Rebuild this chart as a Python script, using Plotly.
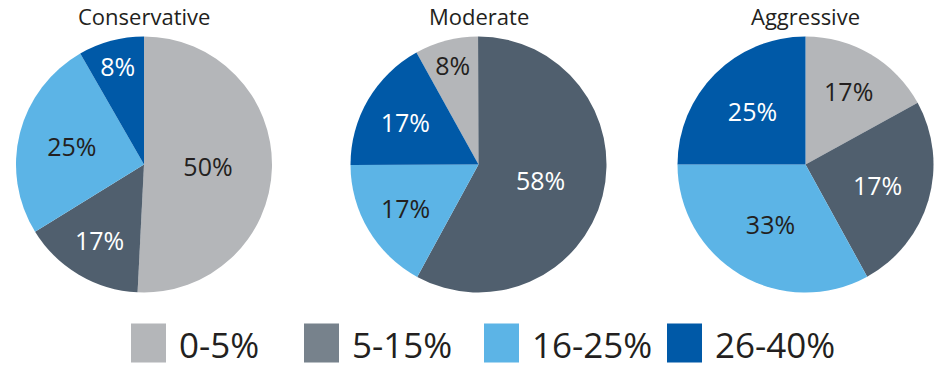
import plotly.graph_objects as go

# ---- data ----
categories = ["0-5%", "5-15%", "16-25%", "26-40%"]
portfolios = ["Conservative", "Moderate", "Aggressive"]
# slice sizes as drawn (percent of the pie)
conservative_sizes = [50.8, 15.4, 25.5, 8.3]
moderate_sizes = [8, 58, 17, 17]
aggressive_sizes = [17, 25, 33, 25]
# labels printed on the slices
conservative_labels = ["50%", "17%", "25%", "8%"]
moderate_labels = ["8%", "58%", "17%", "17%"]
aggressive_labels = ["17%", "17%", "33%", "25%"]

# ---- styling ----
slice_colors = ["#b4b6b9", "#505f6e", "#5cb4e6", "#0059a7"]
legend_colors = ["#b4b6b9", "#77828c", "#5cb4e6", "#0059a7"]
text_colors = ["#231f20", "#ffffff", "#231f20", "#ffffff"]
FONT = "Open Sans, Noto Sans, sans-serif"
W, H = 942, 372

sizes = [conservative_sizes, moderate_sizes, aggressive_sizes]
labels = [conservative_labels, moderate_labels, aggressive_labels]
rotations = [0, -29, 0]
centers_px = [144, 478.5, 805.5]
radius_px = 128
cy_px = 164.5

fig = go.Figure()
for name, vals, txt, rot, cx in zip(portfolios, sizes, labels, rotations, centers_px):
    fig.add_trace(go.Pie(
        name=name,
        labels=categories,
        values=vals,
        text=txt,
        textinfo="text",
        textposition="inside",
        insidetextorientation="horizontal",
        insidetextfont=dict(family=FONT, size=25, color=text_colors),
        marker=dict(colors=slice_colors, line=dict(width=0)),
        sort=False,
        direction="clockwise",
        rotation=rot,
        showlegend=False,
        hoverinfo="label+text",
        domain=dict(
            x=[(cx - radius_px) / W, (cx + radius_px) / W],
            y=[(H - cy_px - radius_px) / H, (H - cy_px + radius_px) / H],
        ),
    ))

annotations = []
for name, cx in zip(portfolios, centers_px):
    annotations.append(dict(
        text=name, x=cx / W, y=(H - 16) / H, xref="paper", yref="paper",
        showarrow=False, xanchor="center", yanchor="middle",
        font=dict(family=FONT, size=22, color="#231f20"),
    ))

# custom legend
legend_sq_x = [131, 304, 484, 667]
sq_w, sq_top, sq_bot = 35, 323.5, 362.5
shapes = []
for cat, col, x0 in zip(categories, legend_colors, legend_sq_x):
    shapes.append(dict(
        type="rect", xref="paper", yref="paper",
        x0=x0 / W, x1=(x0 + sq_w) / W,
        y0=(H - sq_bot) / H, y1=(H - sq_top) / H,
        fillcolor=col, line=dict(width=0),
    ))
    annotations.append(dict(
        text=cat, x=(x0 + sq_w + 11) / W, y=(H - 344) / H,
        xref="paper", yref="paper", showarrow=False,
        xanchor="left", yanchor="middle",
        font=dict(family=FONT, size=35, color="#231f20"),
    ))

fig.update_layout(
    width=W, height=H,
    margin=dict(l=0, r=0, t=0, b=0),
    paper_bgcolor="white", plot_bgcolor="white",
    annotations=annotations, shapes=shapes,
    showlegend=False,
)
fig.write_html(
    "out.html",
    config={"displayModeBar": False},
    post_script="document.body.style.margin='0';document.body.style.padding='0';",
)
